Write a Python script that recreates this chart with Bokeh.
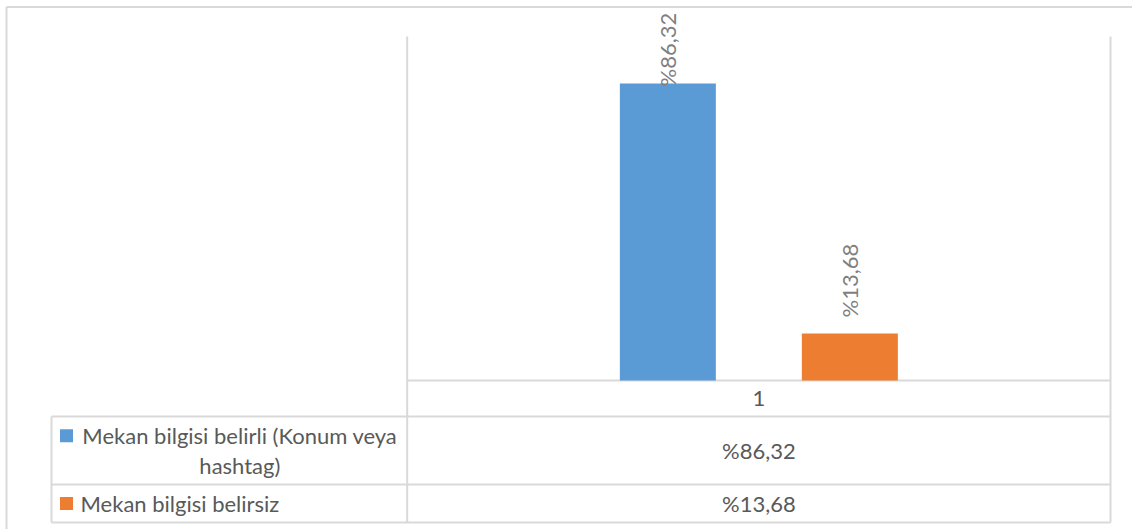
import math
from bokeh.plotting import figure
from bokeh.models import Range1d
from bokeh.core.properties import value
from bokeh.embed import file_html
from bokeh.resources import INLINE

# ---------------- data ----------------
categories = ["1"]
series_names = ["Mekan bilgisi belirli (Konum veya hashtag)", "Mekan bilgisi belirsiz"]
series_values = [86.32, 13.68]
value_labels = ["%86,32", "%13,68"]
series_colors = ["#5b9bd5", "#ed7d31"]
y_max = 100

# ---------------- layout (page pixels) ----------------
OX, OY = 0, 0            # figure origin on the page
W, H = 1132, 529
PLOT_L, PLOT_R = 406.7, 1110.0
PLOT_T, PLOT_B = 36.0, 380.0
TABLE_L = 51.0
ROW_EDGES = [380.0, 416.0, 484.0, 522.0]
BAR_PX = 96.0
GAP_PX = 86.0
LINE_COLOR = "#d9d9d9"
FONT = "Lato"
FSIZE = "22px"
TABLE_TEXT = "#595959"
LABEL_TEXT = "#7f7f7f"

ux = PLOT_R - PLOT_L                 # pixels per category unit
uy = (PLOT_B - PLOT_T) / y_max       # pixels per value unit


def X(px):
    return 0.5 + (px - PLOT_L) / ux


def Y(py):
    return (PLOT_B - py) / uy


p = figure(width=W, height=H,
           x_range=Range1d(X(OX), X(OX + W)),
           y_range=Range1d(Y(OY + H), Y(OY)),
           output_backend="svg", toolbar_location=None,
           x_axis_location=None, y_axis_location=None,
           min_border=0, outline_line_color=None,
           background_fill_color="white", border_fill_color="white")
p.grid.visible = False

# ---------------- outer chart border ----------------
p.segment(x0=[X(6), X(6)], y0=[Y(6.5), Y(6.5)], x1=[X(1300), X(6)], y1=[Y(6.5), Y(700)],
          line_color=LINE_COLOR, line_width=2)

# ---------------- table / plot lines ----------------
hx0 = [X(PLOT_L)] + [X(TABLE_L)] * (len(ROW_EDGES) - 1)
hx1 = [X(PLOT_R)] * len(ROW_EDGES)
hy = [Y(r) for r in ROW_EDGES]
p.segment(x0=hx0, y0=hy, x1=hx1, y1=hy, line_color=LINE_COLOR, line_width=2)
vx = [X(TABLE_L), X(PLOT_L), X(PLOT_R)]
vy0 = [Y(ROW_EDGES[1]), Y(PLOT_T), Y(PLOT_T)]
vy1 = [Y(ROW_EDGES[-1])] * 3
p.segment(x0=vx, y0=vy0, x1=vx, y1=vy1, line_color=LINE_COLOR, line_width=2)

# ---------------- bars ----------------
n = len(series_values)
bar_w = BAR_PX / ux
step = (BAR_PX + GAP_PX) / ux
xs = [1 + (i - (n - 1) / 2) * step for i in range(n)]
p.vbar(x=xs, top=series_values, bottom=0, width=bar_w,
       fill_color=series_colors, line_color=None)

# ---------------- rotated data labels ----------------
gap_units = 16 / uy
label_max = Y(86)   # keep labels inside the chart area
label_y = [min(v + gap_units, label_max) for v in series_values]
p.text(x=xs, y=label_y, text=value_labels, angle=math.pi / 2,
       text_align="left", text_baseline="middle",
       text_font=value(FONT), text_font_size=FSIZE, text_color=LABEL_TEXT)

# ---------------- data table texts ----------------
centers = [(ROW_EDGES[i] + ROW_EDGES[i + 1]) / 2 for i in range(len(ROW_EDGES) - 1)]
# header (category)
p.text(x=[1], y=[Y(centers[0])], text=categories, text_align="center",
       text_baseline="middle", text_font=value(FONT), text_font_size=FSIZE,
       text_color=TABLE_TEXT)
# values
p.text(x=[1] * n, y=[Y(c) for c in centers[1:]], text=value_labels,
       text_align="center", text_baseline="middle", text_font=value(FONT),
       text_font_size=FSIZE, text_color=TABLE_TEXT)


def wrap(s, width=33):
    words, lines, cur = s.split(" "), [], ""
    for w_ in words:
        if cur and len(cur) + 1 + len(w_) > width:
            lines.append(cur)
            cur = w_
        else:
            cur = (cur + " " + w_) if cur else w_
    lines.append(cur)
    return lines


KEY_X = 66.0
TEXT_L = 80.0
LINE_STEP = 29.5
for i, name in enumerate(series_names):
    lines = wrap(name)
    c = centers[i + 1]
    first = c - (len(lines) - 1) * LINE_STEP / 2
    # legend key
    p.rect(x=[X(KEY_X)], y=[Y(first)], width=13, height=13,
           width_units="screen", height_units="screen",
           fill_color=series_colors[i], line_color=None)
    if len(lines) == 1:
        p.text(x=[X(TEXT_L)], y=[Y(first)], text=lines, text_align="left",
               text_baseline="middle", text_font=value(FONT), text_font_size=FSIZE,
               text_color=TABLE_TEXT)
    else:
        text_c = (TEXT_L + PLOT_L - 8) / 2
        p.text(x=[X(text_c)] * len(lines),
               y=[Y(first + k * LINE_STEP) for k in range(len(lines))],
               text=lines, text_align="center", text_baseline="middle",
               text_font=value(FONT), text_font_size=FSIZE, text_color=TABLE_TEXT)

open("out.html", "w").write(file_html(p, INLINE))
